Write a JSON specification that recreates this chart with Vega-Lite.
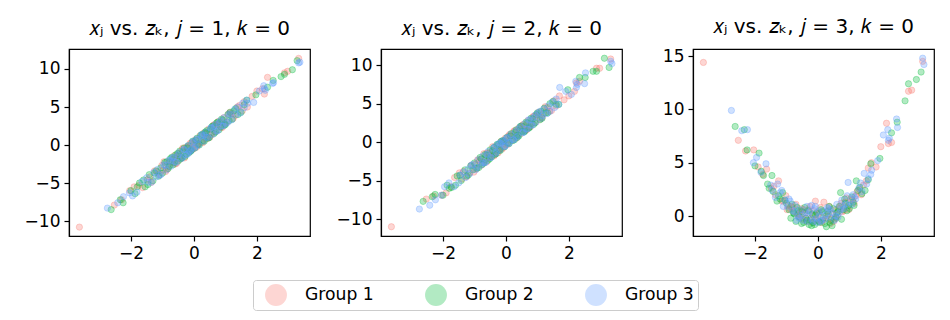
{
  "$schema": "https://vega.github.io/schema/vega-lite/v6.json",
  "padding": {"left": 23, "top": 16, "right": 5, "bottom": 5},
  "background": "white",
  "datasets": {
    "pts": [
      {"g":"Group 1","z":-3.64,"a":-10.8,"b":-11.0,"c":14.4},
      {"g":"Group 1","z":-2.53,"a":-7.9,"b":-7.4,"c":7.1},
      {"g":"Group 1","z":-2.04,"a":-6.0,"b":-6.9,"c":6.2},
      {"g":"Group 1","z":-1.63,"a":-5.6,"b":-4.6,"c":4.4},
      {"g":"Group 1","z":-1.25,"a":-3.4,"b":-4.5,"c":3.3},
      {"g":"Group 1","z":-1.48,"a":-4.6,"b":-4.0,"c":2.6},
      {"g":"Group 1","z":-1.1,"a":-3.9,"b":-3.0,"c":1.4},
      {"g":"Group 1","z":-0.95,"a":-2.2,"b":-3.5,"c":1.0},
      {"g":"Group 1","z":-0.85,"a":-3.2,"b":-2.4,"c":0.9},
      {"g":"Group 1","z":-0.78,"a":-2.2,"b":-3.0,"c":0.4},
      {"g":"Group 1","z":-0.7,"a":-2.3,"b":-1.5,"c":1.1},
      {"g":"Group 1","z":-0.62,"a":-1.4,"b":-2.6,"c":0.2},
      {"g":"Group 1","z":-0.55,"a":-2.4,"b":-1.4,"c":0.5},
      {"g":"Group 1","z":-0.48,"a":-1.1,"b":-1.9,"c":-0.3},
      {"g":"Group 1","z":-0.42,"a":-1.5,"b":-0.6,"c":0.3},
      {"g":"Group 1","z":-0.35,"a":-0.4,"b":-1.6,"c":-0.5},
      {"g":"Group 1","z":-0.3,"a":-1.7,"b":-0.5,"c":0.6},
      {"g":"Group 1","z":-0.22,"a":-0.3,"b":-1.1,"c":-0.2},
      {"g":"Group 1","z":-0.15,"a":-0.9,"b":0.1,"c":0.1},
      {"g":"Group 1","z":-0.08,"a":0.3,"b":-0.7,"c":1.4},
      {"g":"Group 1","z":-0.02,"a":-0.5,"b":0.5,"c":-0.4},
      {"g":"Group 1","z":0.05,"a":0.7,"b":-0.3,"c":0.3},
      {"g":"Group 1","z":0.12,"a":0.0,"b":1.0,"c":-0.6},
      {"g":"Group 1","z":0.19,"a":1.2,"b":0.2,"c":1.3},
      {"g":"Group 1","z":0.25,"a":0.4,"b":1.4,"c":-0.2},
      {"g":"Group 1","z":0.32,"a":1.6,"b":0.5,"c":0.5},
      {"g":"Group 1","z":0.4,"a":0.8,"b":1.8,"c":-0.7},
      {"g":"Group 1","z":0.47,"a":2.1,"b":1.1,"c":0.2},
      {"g":"Group 1","z":0.55,"a":1.3,"b":2.3,"c":0.6},
      {"g":"Group 1","z":0.62,"a":2.6,"b":1.5,"c":0.1},
      {"g":"Group 1","z":0.7,"a":1.8,"b":2.8,"c":0.9},
      {"g":"Group 1","z":0.78,"a":3.1,"b":2.0,"c":0.4},
      {"g":"Group 1","z":0.86,"a":2.3,"b":3.3,"c":1.3},
      {"g":"Group 1","z":0.95,"a":3.6,"b":2.6,"c":0.8},
      {"g":"Group 1","z":1.05,"a":3.0,"b":3.9,"c":1.6},
      {"g":"Group 1","z":1.15,"a":4.3,"b":3.2,"c":1.2},
      {"g":"Group 1","z":1.25,"a":3.5,"b":4.6,"c":2.3},
      {"g":"Group 1","z":1.38,"a":5.0,"b":4.0,"c":2.0},
      {"g":"Group 1","z":1.54,"a":4.5,"b":5.4,"c":3.3},
      {"g":"Group 1","z":1.6,"a":5.7,"b":4.7,"c":4.5},
      {"g":"Group 1","z":1.7,"a":5.0,"b":6.0,"c":5.0},
      {"g":"Group 1","z":2.0,"a":7.1,"b":6.0,"c":6.5},
      {"g":"Group 1","z":2.18,"a":7.4,"b":6.6,"c":8.7},
      {"g":"Group 1","z":2.24,"a":6.7,"b":7.7,"c":6.8},
      {"g":"Group 1","z":2.34,"a":8.9,"b":7.9,"c":6.9},
      {"g":"Group 1","z":2.88,"a":9.5,"b":9.6,"c":11.7},
      {"g":"Group 1","z":2.98,"a":9.7,"b":9.6,"c":11.8},
      {"g":"Group 1","z":3.33,"a":11.4,"b":10.8,"c":14.5},
      {"g":"Group 1","z":-1.9,"a":-5.5,"b":-6.6,"c":4.6},
      {"g":"Group 1","z":-1.35,"a":-4.9,"b":-3.8,"c":2.0},
      {"g":"Group 1","z":-1.02,"a":-2.7,"b":-3.9,"c":1.9},
      {"g":"Group 1","z":-0.6,"a":-2.5,"b":-1.4,"c":-0.1},
      {"g":"Group 1","z":-0.12,"a":0.2,"b":-0.9,"c":0.5},
      {"g":"Group 1","z":0.28,"a":0.3,"b":1.5,"c":0.0},
      {"g":"Group 1","z":0.66,"a":2.7,"b":1.6,"c":0.7},
      {"g":"Group 1","z":0.9,"a":2.3,"b":3.4,"c":1.7},
      {"g":"Group 1","z":1.1,"a":4.1,"b":3.0,"c":1.5},
      {"g":"Group 1","z":-0.9,"a":-3.5,"b":-2.3,"c":0.7},
      {"g":"Group 1","z":-0.38,"a":-0.6,"b":-1.8,"c":-0.2},
      {"g":"Group 1","z":0.08,"a":-0.3,"b":0.8,"c":0.8},
      {"g":"Group 1","z":-2.3,"a":-7.2,"b":-7.0,"c":6.1},
      {"g":"Group 1","z":1.45,"a":5.2,"b":4.1,"c":2.9},
      {"g":"Group 1","z":0.5,"a":1.0,"b":2.1,"c":-0.5},
      {"g":"Group 1","z":-0.25,"a":-0.3,"b":-1.4,"c":0.9},
      {"g":"Group 1","z":1.85,"a":6.4,"b":5.5,"c":4.6},
      {"g":"Group 1","z":-1.75,"a":-5.3,"b":-5.8,"c":3.9},
      {"g":"Group 1","z":-1.15,"a":-3.5,"b":-4.0,"c":1.4},
      {"g":"Group 1","z":-0.8,"a":-2.8,"b":-2.2,"c":0.8},
      {"g":"Group 1","z":-0.65,"a":-1.8,"b":-2.3,"c":0.1},
      {"g":"Group 1","z":-0.45,"a":-1.9,"b":-1.2,"c":0.6},
      {"g":"Group 1","z":-0.18,"a":-0.2,"b":-0.9,"c":-0.6},
      {"g":"Group 1","z":0.0,"a":0.4,"b":-0.3,"c":0.2},
      {"g":"Group 1","z":0.15,"a":0.2,"b":0.8,"c":-0.4},
      {"g":"Group 1","z":0.36,"a":1.5,"b":0.8,"c":0.9},
      {"g":"Group 1","z":0.58,"a":1.6,"b":2.1,"c":-0.2},
      {"g":"Group 1","z":0.74,"a":2.7,"b":2.0,"c":1.2},
      {"g":"Group 1","z":0.98,"a":2.8,"b":3.5,"c":0.6},
      {"g":"Group 1","z":1.2,"a":4.1,"b":3.7,"c":1.9},
      {"g":"Group 1","z":1.32,"a":3.9,"b":4.5,"c":2.5},
      {"g":"Group 1","z":-1.4,"a":-4.2,"b":-4.8,"c":2.8},
      {"g":"Group 1","z":-0.98,"a":-3.3,"b":-2.9,"c":0.6},
      {"g":"Group 1","z":0.42,"a":1.0,"b":1.6,"c":-0.3},
      {"g":"Group 1","z":-0.52,"a":-1.4,"b":-2.0,"c":0.7},
      {"g":"Group 1","z":0.82,"a":2.9,"b":2.4,"c":0.5},
      {"g":"Group 1","z":-0.05,"a":-0.6,"b":0.2,"c":-0.3},
      {"g":"Group 2","z":-2.63,"a":-8.5,"b":-7.7,"c":8.4},
      {"g":"Group 2","z":-2.34,"a":-7.2,"b":-7.1,"c":8.1},
      {"g":"Group 2","z":-2.25,"a":-7.6,"b":-6.8,"c":6.2},
      {"g":"Group 2","z":-1.87,"a":-6.4,"b":-5.6,"c":5.9},
      {"g":"Group 2","z":-2.0,"a":-6.0,"b":-6.9,"c":4.7},
      {"g":"Group 2","z":-1.73,"a":-5.0,"b":-5.9,"c":3.8},
      {"g":"Group 2","z":-1.46,"a":-5.2,"b":-4.3,"c":3.8},
      {"g":"Group 2","z":-1.42,"a":-3.9,"b":-5.0,"c":2.3},
      {"g":"Group 2","z":-1.12,"a":-4.1,"b":-3.1,"c":2.2},
      {"g":"Group 2","z":-1.2,"a":-3.4,"b":-4.3,"c":1.6},
      {"g":"Group 2","z":-1.0,"a":-3.7,"b":-2.7,"c":1.2},
      {"g":"Group 2","z":-0.92,"a":-2.3,"b":-3.4,"c":0.6},
      {"g":"Group 2","z":-0.82,"a":-3.1,"b":-2.0,"c":1.1},
      {"g":"Group 2","z":-0.75,"a":-1.8,"b":-2.9,"c":0.2},
      {"g":"Group 2","z":-0.66,"a":-2.6,"b":-1.6,"c":0.8},
      {"g":"Group 2","z":-0.58,"a":-1.3,"b":-2.4,"c":-0.1},
      {"g":"Group 2","z":-0.5,"a":-2.1,"b":-1.0,"c":0.4},
      {"g":"Group 2","z":-0.45,"a":-0.8,"b":-1.9,"c":-0.6},
      {"g":"Group 2","z":-0.38,"a":-1.7,"b":-0.7,"c":-0.2},
      {"g":"Group 2","z":-0.31,"a":-0.4,"b":-1.5,"c":0.5},
      {"g":"Group 2","z":-0.24,"a":-1.2,"b":-0.3,"c":-0.4},
      {"g":"Group 2","z":-0.18,"a":-0.1,"b":-1.1,"c":0.2},
      {"g":"Group 2","z":-0.1,"a":-0.8,"b":0.2,"c":-0.8},
      {"g":"Group 2","z":-0.04,"a":0.5,"b":-0.6,"c":0.3},
      {"g":"Group 2","z":0.03,"a":-0.4,"b":0.6,"c":-0.5},
      {"g":"Group 2","z":0.1,"a":0.9,"b":-0.2,"c":0.6},
      {"g":"Group 2","z":0.17,"a":0.0,"b":1.1,"c":-0.2},
      {"g":"Group 2","z":0.27,"a":1.4,"b":0.3,"c":-1.0},
      {"g":"Group 2","z":0.33,"a":0.5,"b":1.6,"c":0.2},
      {"g":"Group 2","z":0.41,"a":1.9,"b":0.8,"c":-0.4},
      {"g":"Group 2","z":0.49,"a":1.0,"b":2.1,"c":0.7},
      {"g":"Group 2","z":0.57,"a":2.4,"b":1.3,"c":-0.1},
      {"g":"Group 2","z":0.64,"a":1.5,"b":2.6,"c":0.4},
      {"g":"Group 2","z":0.72,"a":2.9,"b":1.8,"c":2.2},
      {"g":"Group 2","z":0.8,"a":2.0,"b":3.1,"c":0.6},
      {"g":"Group 2","z":0.88,"a":3.4,"b":2.3,"c":1.2},
      {"g":"Group 2","z":0.97,"a":2.6,"b":3.6,"c":1.0},
      {"g":"Group 2","z":1.08,"a":4.0,"b":2.9,"c":1.8},
      {"g":"Group 2","z":1.22,"a":3.4,"b":4.4,"c":3.3},
      {"g":"Group 2","z":1.33,"a":4.8,"b":3.8,"c":2.7},
      {"g":"Group 2","z":1.4,"a":4.0,"b":5.0,"c":2.1},
      {"g":"Group 2","z":1.68,"a":5.9,"b":4.9,"c":4.9},
      {"g":"Group 2","z":1.97,"a":6.6,"b":6.8,"c":5.4},
      {"g":"Group 2","z":2.34,"a":7.6,"b":8.4,"c":7.8},
      {"g":"Group 2","z":2.52,"a":8.5,"b":8.4,"c":8.8},
      {"g":"Group 2","z":2.77,"a":9.0,"b":9.2,"c":10.8},
      {"g":"Group 2","z":2.88,"a":9.3,"b":9.2,"c":12.4},
      {"g":"Group 2","z":3.13,"a":9.9,"b":10.9,"c":12.8},
      {"g":"Group 2","z":3.28,"a":11.1,"b":9.7,"c":13.5},
      {"g":"Group 2","z":-1.6,"a":-4.6,"b":-5.6,"c":3.0},
      {"g":"Group 2","z":-1.3,"a":-4.7,"b":-3.6,"c":1.4},
      {"g":"Group 2","z":-0.7,"a":-1.6,"b":-2.7,"c":-0.5},
      {"g":"Group 2","z":-0.15,"a":-1.0,"b":0.1,"c":-0.6},
      {"g":"Group 2","z":0.22,"a":1.3,"b":0.2,"c":-0.7},
      {"g":"Group 2","z":0.45,"a":0.9,"b":2.0,"c":-0.9},
      {"g":"Group 2","z":0.75,"a":3.0,"b":1.9,"c":-0.3},
      {"g":"Group 2","z":1.0,"a":2.7,"b":3.8,"c":0.7},
      {"g":"Group 2","z":1.15,"a":4.3,"b":3.1,"c":1.0},
      {"g":"Group 2","z":-0.86,"a":-2.2,"b":-3.3,"c":-0.2},
      {"g":"Group 2","z":-0.28,"a":-1.5,"b":-0.3,"c":-0.8},
      {"g":"Group 2","z":0.6,"a":2.5,"b":1.4,"c":0.3},
      {"g":"Group 2","z":-1.55,"a":-5.5,"b":-4.4,"c":2.6},
      {"g":"Group 2","z":1.5,"a":4.3,"b":5.3,"c":2.4},
      {"g":"Group 2","z":0.36,"a":1.7,"b":0.6,"c":0.9},
      {"g":"Group 2","z":-0.52,"a":-1.1,"b":-2.2,"c":-0.7},
      {"g":"Group 2","z":-1.8,"a":-5.5,"b":-6.0,"c":4.2},
      {"g":"Group 2","z":-1.05,"a":-3.0,"b":-3.6,"c":1.5},
      {"g":"Group 2","z":-0.62,"a":-2.3,"b":-1.7,"c":0.5},
      {"g":"Group 2","z":-0.35,"a":-0.9,"b":-1.6,"c":-0.4},
      {"g":"Group 2","z":-0.08,"a":-0.7,"b":0.1,"c":0.1},
      {"g":"Group 2","z":0.06,"a":0.6,"b":-0.1,"c":-0.6},
      {"g":"Group 2","z":0.3,"a":0.6,"b":1.3,"c":0.4},
      {"g":"Group 2","z":0.53,"a":2.1,"b":1.4,"c":-0.3},
      {"g":"Group 2","z":0.68,"a":1.7,"b":2.5,"c":0.9},
      {"g":"Group 2","z":0.92,"a":3.3,"b":2.5,"c":0.5},
      {"g":"Group 2","z":1.12,"a":3.2,"b":4.0,"c":1.3},
      {"g":"Group 2","z":1.27,"a":4.5,"b":3.8,"c":2.4},
      {"g":"Group 2","z":-1.25,"a":-3.7,"b":-4.4,"c":1.9},
      {"g":"Group 2","z":-0.78,"a":-2.8,"b":-2.2,"c":0.3},
      {"g":"Group 2","z":0.14,"a":0.1,"b":0.8,"c":0.4},
      {"g":"Group 2","z":0.85,"a":2.4,"b":3.0,"c":1.6},
      {"g":"Group 2","z":-0.42,"a":-1.8,"b":-1.1,"c":0.8},
      {"g":"Group 2","z":0.38,"a":1.6,"b":0.9,"c":-0.6},
      {"g":"Group 2","z":1.6,"a":5.3,"b":4.9,"c":3.4},
      {"g":"Group 2","z":-0.2,"a":-0.4,"b":-1.0,"c":-0.9},
      {"g":"Group 3","z":-2.75,"a":-8.3,"b":-8.7,"c":9.9},
      {"g":"Group 3","z":-2.42,"a":-7.6,"b":-8.2,"c":8.0},
      {"g":"Group 3","z":-2.24,"a":-6.8,"b":-7.5,"c":8.1},
      {"g":"Group 3","z":-1.95,"a":-6.7,"b":-5.8,"c":5.5},
      {"g":"Group 3","z":-1.65,"a":-4.8,"b":-5.8,"c":4.9},
      {"g":"Group 3","z":-1.81,"a":-6.2,"b":-5.3,"c":4.1},
      {"g":"Group 3","z":-1.28,"a":-3.6,"b":-4.6,"c":3.0},
      {"g":"Group 3","z":-1.35,"a":-4.9,"b":-3.9,"c":1.75},
      {"g":"Group 3","z":-1.15,"a":-3.2,"b":-4.1,"c":2.4},
      {"g":"Group 3","z":-1.05,"a":-3.9,"b":-2.9,"c":1.5},
      {"g":"Group 3","z":-0.96,"a":-2.6,"b":-3.6,"c":0.9},
      {"g":"Group 3","z":-0.88,"a":-3.3,"b":-2.3,"c":1.4},
      {"g":"Group 3","z":-0.8,"a":-2.0,"b":-3.0,"c":0.5},
      {"g":"Group 3","z":-0.73,"a":-2.8,"b":-1.8,"c":1.0},
      {"g":"Group 3","z":-0.64,"a":-1.6,"b":-2.6,"c":0.0},
      {"g":"Group 3","z":-0.56,"a":-2.3,"b":-1.2,"c":0.6},
      {"g":"Group 3","z":-0.47,"a":-1.0,"b":-2.0,"c":-0.4},
      {"g":"Group 3","z":-0.4,"a":-1.8,"b":-0.8,"c":0.3},
      {"g":"Group 3","z":-0.33,"a":-0.6,"b":-1.5,"c":-0.5},
      {"g":"Group 3","z":-0.26,"a":-1.3,"b":-0.3,"c":0.4},
      {"g":"Group 3","z":-0.19,"a":-0.1,"b":-1.0,"c":-0.3},
      {"g":"Group 3","z":-0.11,"a":-0.8,"b":0.1,"c":0.7},
      {"g":"Group 3","z":-0.05,"a":0.3,"b":-0.6,"c":-0.2},
      {"g":"Group 3","z":0.02,"a":-0.4,"b":0.5,"c":0.4},
      {"g":"Group 3","z":0.09,"a":0.8,"b":-0.2,"c":-0.5},
      {"g":"Group 3","z":0.15,"a":0.0,"b":1.0,"c":0.5},
      {"g":"Group 3","z":0.23,"a":1.2,"b":0.3,"c":-0.3},
      {"g":"Group 3","z":0.3,"a":0.5,"b":1.4,"c":0.8},
      {"g":"Group 3","z":0.38,"a":1.7,"b":0.8,"c":-0.1},
      {"g":"Group 3","z":0.46,"a":1.0,"b":2.0,"c":0.3},
      {"g":"Group 3","z":0.53,"a":2.2,"b":1.2,"c":-0.4},
      {"g":"Group 3","z":0.6,"a":1.4,"b":2.4,"c":1.1},
      {"g":"Group 3","z":0.68,"a":2.7,"b":1.7,"c":0.3},
      {"g":"Group 3","z":0.76,"a":1.9,"b":2.9,"c":1.5},
      {"g":"Group 3","z":0.84,"a":3.2,"b":2.2,"c":0.7},
      {"g":"Group 3","z":0.93,"a":2.5,"b":3.5,"c":1.9},
      {"g":"Group 3","z":0.96,"a":3.6,"b":2.6,"c":3.15},
      {"g":"Group 3","z":1.02,"a":2.8,"b":3.8,"c":1.3},
      {"g":"Group 3","z":1.12,"a":4.1,"b":3.1,"c":2.0},
      {"g":"Group 3","z":1.2,"a":3.3,"b":4.3,"c":1.6},
      {"g":"Group 3","z":1.3,"a":4.7,"b":3.7,"c":2.6},
      {"g":"Group 3","z":1.47,"a":4.2,"b":5.2,"c":4.0},
      {"g":"Group 3","z":1.68,"a":5.9,"b":4.9,"c":3.9},
      {"g":"Group 3","z":1.71,"a":5.5,"b":7.1,"c":4.3},
      {"g":"Group 3","z":2.08,"a":7.1,"b":6.2,"c":7.6},
      {"g":"Group 3","z":2.22,"a":7.8,"b":7.9,"c":8.1},
      {"g":"Group 3","z":2.27,"a":7.2,"b":7.5,"c":7.3},
      {"g":"Group 3","z":2.24,"a":7.4,"b":7.1,"c":7.1},
      {"g":"Group 3","z":2.5,"a":8.1,"b":7.6,"c":9.1},
      {"g":"Group 3","z":2.53,"a":8.2,"b":9.0,"c":8.3},
      {"g":"Group 3","z":3.33,"a":10.8,"b":10.5,"c":14.8},
      {"g":"Group 3","z":3.37,"a":10.9,"b":10.2,"c":14.2},
      {"g":"Group 3","z":-0.68,"a":-1.7,"b":-2.7,"c":-0.4},
      {"g":"Group 3","z":-0.2,"a":-1.2,"b":-0.1,"c":1.0},
      {"g":"Group 3","z":0.25,"a":1.4,"b":0.3,"c":0.1},
      {"g":"Group 3","z":0.72,"a":1.8,"b":2.9,"c":0.6},
      {"g":"Group 3","z":1.4,"a":5.0,"b":4.0,"c":2.3},
      {"g":"Group 3","z":-1.5,"a":-4.3,"b":-5.3,"c":2.9},
      {"g":"Group 3","z":-0.35,"a":-1.6,"b":-0.6,"c":0.9},
      {"g":"Group 3","z":0.56,"a":2.3,"b":1.3,"c":0.0},
      {"g":"Group 3","z":-0.02,"a":0.5,"b":-0.5,"c":-0.6},
      {"g":"Group 3","z":1.08,"a":3.0,"b":4.0,"c":1.1},
      {"g":"Group 3","z":-1.1,"a":-4.0,"b":-3.0,"c":0.9},
      {"g":"Group 3","z":1.55,"a":5.5,"b":4.5,"c":3.0},
      {"g":"Group 3","z":1.9,"a":5.6,"b":6.6,"c":5.2},
      {"g":"Group 3","z":-2.05,"a":-6.3,"b":-6.9,"c":5.0},
      {"g":"Group 3","z":-1.45,"a":-4.9,"b":-4.3,"c":2.4},
      {"g":"Group 3","z":-0.92,"a":-2.7,"b":-3.3,"c":1.6},
      {"g":"Group 3","z":-0.6,"a":-2.2,"b":-1.6,"c":-0.2},
      {"g":"Group 3","z":-0.3,"a":-0.6,"b":-1.3,"c":0.2},
      {"g":"Group 3","z":-0.08,"a":-0.6,"b":0.2,"c":0.9},
      {"g":"Group 3","z":0.12,"a":0.7,"b":0.0,"c":-0.4},
      {"g":"Group 3","z":0.4,"a":1.0,"b":1.7,"c":0.6},
      {"g":"Group 3","z":0.64,"a":2.4,"b":1.7,"c":-0.1},
      {"g":"Group 3","z":0.88,"a":2.5,"b":3.2,"c":1.1},
      {"g":"Group 3","z":1.16,"a":4.0,"b":3.4,"c":1.8},
      {"g":"Group 3","z":1.35,"a":4.0,"b":4.7,"c":3.1},
      {"g":"Group 3","z":-1.2,"a":-4.2,"b":-3.5,"c":2.2},
      {"g":"Group 3","z":-0.5,"a":-1.3,"b":-2.0,"c":0.1},
      {"g":"Group 3","z":0.05,"a":-0.2,"b":0.6,"c":0.0},
      {"g":"Group 3","z":0.8,"a":2.9,"b":2.2,"c":0.9},
      {"g":"Group 3","z":1.6,"a":4.9,"b":5.6,"c":3.5},
      {"g":"Group 3","z":-0.15,"a":-0.9,"b":-0.2,"c":-0.5},
      {"g":"Group 3","z":0.33,"a":1.3,"b":0.6,"c":0.7},
      {"g":"Group 3","z":-0.75,"a":-2.1,"b":-2.7,"c":0.4}
    ]
  },
  "data": {"name": "pts"},
  "spacing": 71,
  "bounds": "flush",
  "resolve": {"scale": {"fill": "shared", "stroke": "shared"}, "legend": {"fill": "shared"}},
  "hconcat": [
    {
      "width": 241, "height": 187,
      "title": "𝑥ⱼ vs. 𝑧ₖ, 𝑗 = 1, 𝑘 = 0",
      "mark": {"type": "circle", "size": 40, "fillOpacity": 0.3, "strokeOpacity": 0.3, "strokeWidth": 1},
      "encoding": {
        "x": {"field": "z", "type": "quantitative", "title": null, "scale": {"domain": [-3.97, 3.69], "nice": false, "zero": false}, "axis": {"values": [-2, 0, 2]}},
        "y": {"field": "a", "type": "quantitative", "title": null, "scale": {"domain": [-11.97, 12.63], "nice": false, "zero": false}, "axis": {"values": [-10, -5, 0, 5, 10]}},
        "fill": {"field": "g", "type": "nominal", "scale": {"domain": ["Group 1", "Group 2", "Group 3"], "range": ["#F8766D", "#00BA38", "#619CFF"]},
          "legend": {"title": null, "orient": "none", "legendX": 184, "legendY": 231, "direction": "horizontal", "symbolType": "circle", "symbolSize": 480, "symbolOpacity": 0.3, "symbolStrokeWidth": 0, "labelFontSize": 17.2, "labelColor": "#000", "labelOffset": 18, "columnPadding": 43, "padding": 4, "symbolOffset": 8, "strokeColor": "#cccccc", "cornerRadius": 3, "fillColor": "#ffffff"}},
        "stroke": {"field": "g", "type": "nominal", "scale": {"domain": ["Group 1", "Group 2", "Group 3"], "range": ["#F8766D", "#00BA38", "#619CFF"]}, "legend": null}
      }
    },
    {
      "width": 241, "height": 187,
      "title": "𝑥ⱼ vs. 𝑧ₖ, 𝑗 = 2, 𝑘 = 0",
      "mark": {"type": "circle", "size": 40, "fillOpacity": 0.3, "strokeOpacity": 0.3, "strokeWidth": 1},
      "encoding": {
        "x": {"field": "z", "type": "quantitative", "title": null, "scale": {"domain": [-3.97, 3.69], "nice": false, "zero": false}, "axis": {"values": [-2, 0, 2]}},
        "y": {"field": "b", "type": "quantitative", "title": null, "scale": {"domain": [-12.2, 12.1], "nice": false, "zero": false}, "axis": {"values": [-10, -5, 0, 5, 10]}},
        "fill": {"field": "g", "type": "nominal", "scale": {"domain": ["Group 1", "Group 2", "Group 3"], "range": ["#F8766D", "#00BA38", "#619CFF"]},
          "legend": {"title": null, "orient": "none", "legendX": 184, "legendY": 231, "direction": "horizontal", "symbolType": "circle", "symbolSize": 480, "symbolOpacity": 0.3, "symbolStrokeWidth": 0, "labelFontSize": 17.2, "labelColor": "#000", "labelOffset": 18, "columnPadding": 43, "padding": 4, "symbolOffset": 8, "strokeColor": "#cccccc", "cornerRadius": 3, "fillColor": "#ffffff"}},
        "stroke": {"field": "g", "type": "nominal", "scale": {"domain": ["Group 1", "Group 2", "Group 3"], "range": ["#F8766D", "#00BA38", "#619CFF"]}, "legend": null}
      }
    },
    {
      "width": 241, "height": 187,
      "title": "𝑥ⱼ vs. 𝑧ₖ, 𝑗 = 3, 𝑘 = 0",
      "mark": {"type": "circle", "size": 40, "fillOpacity": 0.3, "strokeOpacity": 0.3, "strokeWidth": 1},
      "encoding": {
        "x": {"field": "z", "type": "quantitative", "title": null, "scale": {"domain": [-3.97, 3.69], "nice": false, "zero": false}, "axis": {"values": [-2, 0, 2]}},
        "y": {"field": "c", "type": "quantitative", "title": null, "scale": {"domain": [-1.87, 15.66], "nice": false, "zero": false}, "axis": {"values": [0, 5, 10, 15]}},
        "fill": {"field": "g", "type": "nominal", "scale": {"domain": ["Group 1", "Group 2", "Group 3"], "range": ["#F8766D", "#00BA38", "#619CFF"]},
          "legend": {"title": null, "orient": "none", "legendX": 184, "legendY": 231, "direction": "horizontal", "symbolType": "circle", "symbolSize": 480, "symbolOpacity": 0.3, "symbolStrokeWidth": 0, "labelFontSize": 17.2, "labelColor": "#000", "labelOffset": 18, "columnPadding": 43, "padding": 4, "symbolOffset": 8, "strokeColor": "#cccccc", "cornerRadius": 3, "fillColor": "#ffffff"}},
        "stroke": {"field": "g", "type": "nominal", "scale": {"domain": ["Group 1", "Group 2", "Group 3"], "range": ["#F8766D", "#00BA38", "#619CFF"]}, "legend": null}
      }
    }
  ],
  "config": {
    "font": "DejaVu Sans",
    "view": {"stroke": "#000000", "strokeWidth": 1.2},
    "axis": {"grid": false, "domainColor": "#000000", "domainWidth": 1.2, "tickColor": "#000000", "tickWidth": 1.2, "tickSize": 5, "labelPadding": 4, "labelFontSize": 17, "labelColor": "#000000", "labelFont": "DejaVu Sans"},
    "title": {"fontSize": 20, "fontWeight": "normal", "font": "DejaVu Sans", "color": "#000000", "offset": 10}
  }
}
